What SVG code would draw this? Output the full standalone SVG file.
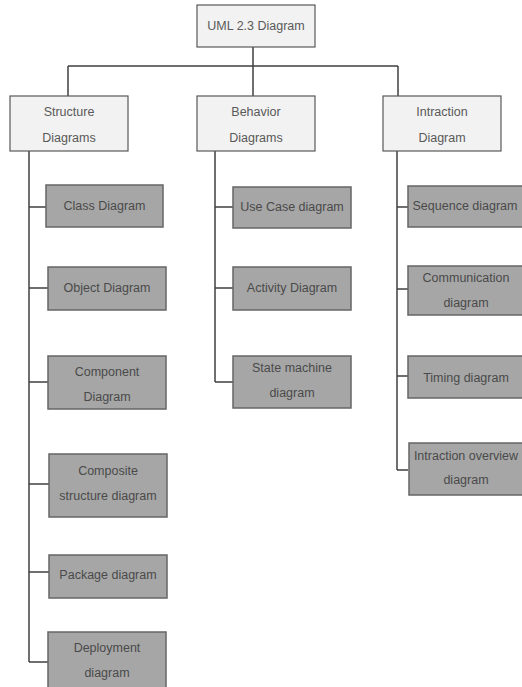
<svg xmlns="http://www.w3.org/2000/svg" width="522" height="687" viewBox="0 0 522 687">
<style>
.top{fill:#f2f2f2;stroke:#595959;stroke-width:1.2}
.leaf{fill:#a6a6a6;stroke:#666;stroke-width:1.5}
text{font-family:"Liberation Sans",Arial,sans-serif;font-size:12.5px;fill:#595959;text-anchor:middle;dominant-baseline:central}
.leaf+text,.lt{fill:#4a4a4a}
.c{fill:none;stroke:#404040;stroke-width:1.5}
</style>
<rect width="522" height="687" fill="#fff"/>
<g id="connectors">
<path class="c" d="M253,47V66M68,66H398M68,66V96M253,66V96M398,66V96"/>
<path class="c" d="M29,151V662M29,207H46M29,288H48M29,382H48M29,484H49M29,572H49M29,662H48"/>
<path class="c" d="M215,151V382M215,207H233M215,288H233M215,382H233"/>
<path class="c" d="M397,150V470M397,207H408M397,289H408M397,376H408M397,470H408"/>
</g>
<g id="root"><rect class="top" x="197" y="5" width="118" height="42"/><text x="256" y="26">UML 2.3 Diagram</text></g>
<g id="structure"><rect class="top" x="10" y="96" width="118" height="55"/><text x="69" y="112">Structure</text><text x="69" y="138">Diagrams</text></g>
<g id="behavior"><rect class="top" x="197" y="96" width="118" height="55"/><text x="256" y="112">Behavior</text><text x="256" y="138">Diagrams</text></g>
<g id="interaction"><rect class="top" x="383" y="96" width="118" height="55"/><text x="442" y="112">Intraction</text><text x="442" y="138">Diagram</text></g>
<g id="class"><rect class="leaf" x="46" y="185" width="117" height="42"/><text class="lt" x="104.5" y="206">Class Diagram</text></g>
<g id="object"><rect class="leaf" x="48" y="267" width="118" height="43"/><text class="lt" x="107" y="288">Object Diagram</text></g>
<g id="component"><rect class="leaf" x="48" y="356" width="118" height="53"/><text class="lt" x="107" y="372">Component</text><text class="lt" x="107" y="397">Diagram</text></g>
<g id="composite"><rect class="leaf" x="49" y="454" width="118" height="63"/><text class="lt" x="108" y="471">Composite</text><text class="lt" x="108" y="496">structure diagram</text></g>
<g id="package"><rect class="leaf" x="49" y="555" width="118" height="43"/><text class="lt" x="108" y="575">Package diagram</text></g>
<g id="deployment"><rect class="leaf" x="48" y="632" width="118" height="60"/><text class="lt" x="107" y="648">Deployment</text><text class="lt" x="107" y="673">diagram</text></g>
<g id="usecase"><rect class="leaf" x="233" y="187" width="118" height="41"/><text class="lt" x="292" y="207">Use Case diagram</text></g>
<g id="activity"><rect class="leaf" x="233" y="267" width="118" height="43"/><text class="lt" x="292" y="288">Activity Diagram</text></g>
<g id="statemachine"><rect class="leaf" x="233" y="356" width="118" height="52"/><text class="lt" x="292" y="368">State machine</text><text class="lt" x="292" y="393">diagram</text></g>
<g id="sequence"><rect class="leaf" x="408" y="186" width="118" height="41"/><text class="lt" x="465" y="206">Sequence diagram</text></g>
<g id="communication"><rect class="leaf" x="408" y="266" width="118" height="49"/><text class="lt" x="466" y="278">Communication</text><text class="lt" x="466" y="303">diagram</text></g>
<g id="timing"><rect class="leaf" x="408" y="356" width="118" height="42"/><text class="lt" x="466" y="378">Timing diagram</text></g>
<g id="overview"><rect class="leaf" x="409" y="443" width="118" height="52"/><text class="lt" x="466" y="456">Intraction overview</text><text class="lt" x="466" y="480">diagram</text></g>
</svg>
